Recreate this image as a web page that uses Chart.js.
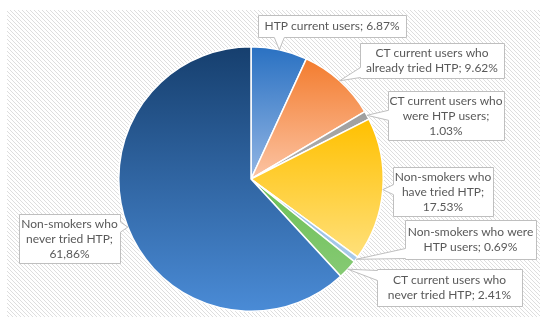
<!DOCTYPE html>
<html>
<head>
<meta charset="utf-8">
<script src="https://cdn.jsdelivr.net/npm/chart.js@4/dist/chart.umd.min.js"></script>
<style>
  html, body { margin: 0; padding: 0; background: #fff; }
  #pie { display: block; }
</style>
</head>
<body>
<canvas id="pie" width="550" height="327"></canvas>
<script>
const categories = [
  'HTP current users',
  'CT current users who already tried HTP',
  'CT current users who were HTP users',
  'Non-smokers who have tried HTP',
  'Non-smokers who were HTP users',
  'CT current users who never tried HTP',
  'Non-smokers who never tried HTP'
];
const shares = [6.87, 9.62, 1.03, 17.53, 0.69, 2.41, 61.86];
const labelLines = [
  ['HTP current users; 6.87%'],
  ['CT current users who', 'already tried HTP; 9.62%'],
  ['CT current users who', 'were HTP users;', '1.03%'],
  ['Non-smokers who', 'have tried HTP;', '17.53%'],
  ['Non-smokers who were', 'HTP users; 0.69%'],
  ['CT current users who', 'never tried HTP; 2.41%'],
  ['Non-smokers who', 'never tried HTP;', '61,86%']
];
const topColors = ['#2a71c2', '#f37c2e', '#9e9e9e', '#ffc000', '#8fb9e3', '#6cbf54', '#163f6e'];
const bottomColors = ['#93b6e4', '#fcc4a4', '#b2b2b2', '#ffe07a', '#aacbea', '#86ca74', '#4a8bd6'];
// callout boxes [left, top, right, bottom]
const boxes = [
  [258, 15, 406, 37],
  [360, 43, 504, 78],
  [388, 91, 504, 140],
  [393, 167, 493, 216],
  [405, 220, 536, 259],
  [377, 269, 522, 306],
  [19, 214, 120, 263]
];

const BORDER = 1.5;

function sliceGradient(c) {
  const chart = c.chart;
  const area = chart.chartArea;
  const i = c.dataIndex;
  if (!area) return topColors[i];
  const cx = (area.left + area.right) / 2;
  const cy = (area.top + area.bottom) / 2;
  const r = (Math.min(area.width, area.height) - BORDER) / 2;
  const total = shares.reduce((a, b) => a + b, 0);
  const before = shares.slice(0, i).reduce((a, b) => a + b, 0);
  const a0 = -Math.PI / 2 + before / total * 2 * Math.PI;
  const a1 = a0 + shares[i] / total * 2 * Math.PI;
  const ys = [cy, cy + r * Math.sin(a0), cy + r * Math.sin(a1)];
  [-Math.PI / 2, Math.PI / 2, 3 * Math.PI / 2].forEach(t => {
    if (t >= a0 && t <= a1) ys.push(cy + r * Math.sin(t));
  });
  const g = chart.ctx.createLinearGradient(0, Math.min(...ys), 0, Math.max(...ys));
  g.addColorStop(0, topColors[i]);
  g.addColorStop(1, bottomColors[i]);
  return g;
}

const hatchBackground = {
  id: 'hatchBackground',
  beforeDraw(chart) {
    const ctx = chart.ctx;
    ctx.save();
    ctx.fillStyle = '#ffffff';
    ctx.fillRect(0, 0, chart.width, chart.height);
    ctx.beginPath();
    ctx.rect(7, 10, 533, 307);
    ctx.clip();
    ctx.strokeStyle = '#dedede';
    ctx.lineWidth = 1;
    ctx.beginPath();
    for (let x = -310; x < 545; x += 4) {
      ctx.moveTo(x, 10);
      ctx.lineTo(x + 307, 317);
    }
    ctx.stroke();
    ctx.restore();
  }
};

function clamp(v, lo, hi) { return Math.max(lo, Math.min(hi, v)); }

function calloutPath(ctx, box, tip) {
  const l = box[0] + 0.5, t = box[1] + 0.5, r = box[2] + 0.5, b = box[3] + 0.5;
  const h = 5;
  let side;
  if (tip.x < l) side = 'left';
  else if (tip.x > r) side = 'right';
  else if (tip.y > b) side = 'bottom';
  else side = 'top';
  ctx.beginPath();
  ctx.moveTo(l, t);
  if (side === 'top') {
    const xc = clamp(tip.x, l + h + 1, r - h - 1);
    ctx.lineTo(xc - h, t); ctx.lineTo(tip.x, tip.y); ctx.lineTo(xc + h, t);
  }
  ctx.lineTo(r, t);
  if (side === 'right') {
    const yc = clamp(tip.y, t + h + 1, b - h - 1);
    ctx.lineTo(r, yc - h); ctx.lineTo(tip.x, tip.y); ctx.lineTo(r, yc + h);
  }
  ctx.lineTo(r, b);
  if (side === 'bottom') {
    const xc = clamp(tip.x, l + h + 1, r - h - 1);
    ctx.lineTo(xc + h, b); ctx.lineTo(tip.x, tip.y); ctx.lineTo(xc - h, b);
  }
  ctx.lineTo(l, b);
  if (side === 'left') {
    const yc = clamp(tip.y, t + h + 1, b - h - 1);
    ctx.lineTo(l, yc + h); ctx.lineTo(tip.x, tip.y); ctx.lineTo(l, yc - h);
  }
  ctx.closePath();
}

const callouts = {
  id: 'callouts',
  afterDatasetsDraw(chart) {
    const ctx = chart.ctx;
    const arcs = chart.getDatasetMeta(0).data;
    ctx.save();
    arcs.forEach((arc, i) => {
      const p = arc.getProps(['x', 'y', 'startAngle', 'endAngle', 'outerRadius'], true);
      const mid = (p.startAngle + p.endAngle) / 2;
      const tip = { x: p.x + Math.cos(mid) * p.outerRadius, y: p.y + Math.sin(mid) * p.outerRadius };
      const box = boxes[i];
      calloutPath(ctx, box, tip);
      ctx.fillStyle = '#ffffff';
      ctx.fill();
      ctx.strokeStyle = '#bfbfbf';
      ctx.lineWidth = 1;
      ctx.stroke();
      const lines = labelLines[i];
      const lh = 15;
      const cx = (box[0] + box[2]) / 2;
      const cy = (box[1] + box[3]) / 2 + 0.5;
      ctx.fillStyle = '#595959';
      ctx.font = '12px Lato';
      ctx.textAlign = 'center';
      ctx.textBaseline = 'middle';
      lines.forEach((s, k) => {
        ctx.fillText(s, cx, cy + (k - (lines.length - 1) / 2) * lh);
      });
    });
    ctx.restore();
  }
};

new Chart(document.getElementById('pie'), {
  type: 'pie',
  data: {
    labels: categories,
    datasets: [{
      data: shares,
      backgroundColor: sliceGradient,
      borderColor: '#ffffff',
      borderWidth: BORDER
    }]
  },
  options: {
    responsive: false,
    animation: false,
    layout: { padding: { left: 118, right: 166, top: 46, bottom: 15 } },
    plugins: {
      legend: { display: false },
      tooltip: { enabled: false }
    }
  },
  plugins: [hatchBackground, callouts]
});
</script>
</body>
</html>
